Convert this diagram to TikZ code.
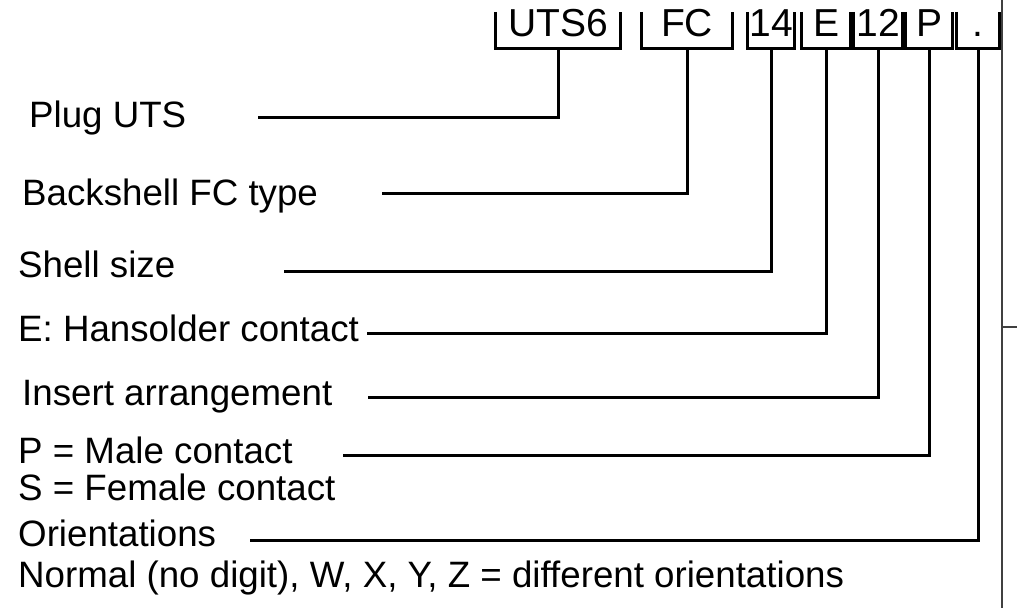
\documentclass[tikz,border=0pt]{standalone}
\usepackage{fontspec}
\setmainfont{Liberation Sans}
\begin{document}
\begin{tikzpicture}[x=1pt,y=-1pt,
  code/.style={inner sep=0pt,text height=24pt,text depth=12pt,font=\fontsize{39}{40}\selectfont},
  desc/.style={anchor=base west,inner sep=0pt,font=\fontsize{36.7}{40}\selectfont},
  lead/.style={line width=3pt,line join=miter}]
\useasboundingbox (0,0) rectangle (1017,608);
\def\ty{30};
\node[code,minimum width=125pt] (kUTS) at (558,\ty) {UTS6};
\node[code,minimum width=90pt] (kFC) at (687,\ty) {FC};
\node[code,minimum width=46pt] (k14) at (771,\ty) {14};
\node[code,minimum width=48pt] (kE) at (826,\ty) {E};
\node[code,minimum width=48pt] (k12) at (878,\ty) {12};
\node[code,minimum width=46pt] (kP) at (929,\ty) {P};
\node[code,minimum width=42pt] (kDot) at (978,\ty) {.};
\foreach \k in {kUTS,kFC,k14,kE,k12,kP,kDot}
  \draw[lead] (\k.north west) -- (\k.south west) -- (\k.south east) -- (\k.north east);
\node[desc] (lUTS) at (29,127) {Plug UTS};
\node[desc] (lFC) at (22,205) {Backshell FC type};
\node[desc] (l14) at (18,277) {Shell size};
\node[desc] (lE) at (18,341) {E: Hansolder contact};
\node[desc] (l12) at (22,405) {Insert arrangement};
\node[desc] (lP) at (18,463) {P = Male contact};
\node[desc] (lS) at (18,500) {S = Female contact};
\node[desc] (lO) at (18,546) {Orientations};
\node[desc] (lN) at (18,587) {Normal (no digit), W, X, Y, Z = different orientations};
\coordinate (eUTS) at (258,117);
\coordinate (eFC) at (382,193);
\coordinate (e14) at (284,271);
\coordinate (eE) at (367,333);
\coordinate (e12) at (368,397);
\coordinate (eP) at (343,455);
\coordinate (eDot) at (250,540);
\draw[lead] (kUTS.south) |- (eUTS);
\draw[lead] (kFC.south) |- (eFC);
\draw[lead] (k14.south) |- (e14);
\draw[lead] (kE.south) |- (eE);
\draw[lead] (k12.south) |- (e12);
\draw[lead] (kP.south) |- (eP);
\draw[lead] (kDot.south) |- (eDot);
\draw[line width=1.5pt,black!75] (1002,0) -- (1002,608) (1002,327) -- (1017,327);
\end{tikzpicture}
\end{document}
